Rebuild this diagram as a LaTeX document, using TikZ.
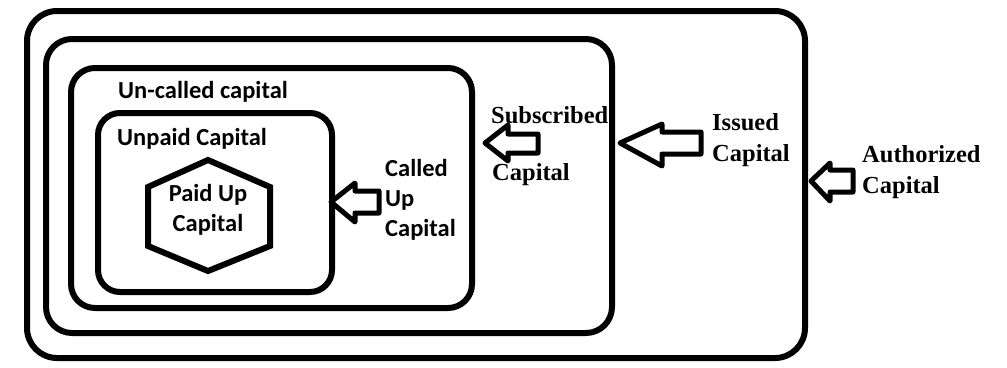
\documentclass[tikz,border=0pt]{standalone}
\usepackage{fontspec}
\setmainfont{Liberation Serif}
\newfontfamily\calib{Carlito}
\begin{document}
\begin{tikzpicture}[x=1pt,y=-1pt,
  capbox/.style={line width=6pt, rounded corners=#1},
  blockarrow/.style={line width=5pt, line join=round, fill=white},
  serif/.style={font=\fontsize{24.5}{31}\selectfont\bfseries, inner sep=0pt, align=left, anchor=north west},
  sans/.style={font=\calib\fontsize{24.5}{30}\selectfont\bfseries, inner sep=0pt, align=left, anchor=north west},
  sansc/.style={font=\calib\fontsize{24.5}{30}\selectfont\bfseries, inner sep=0pt, align=center}]
\useasboundingbox (0,0) rectangle (1007,367);
% nested boxes
\draw[capbox=30pt] (27,11) rectangle (805,358);
\draw[capbox=26pt] (46,39) rectangle (612,333);
\draw[capbox=24pt] (71,68) rectangle (472,308);
\draw[capbox=22pt] (98,113) rectangle (332,292);
% hexagon
\draw[line width=6pt, line join=miter] (208,160) -- (270,187) -- (270,246) -- (208,271) -- (148,246) -- (148,187) -- cycle;
% texts
\node[sans] (uncalled) at (118,81) {Un-called capital};
\node[sans] (unpaid) at (117,128) {Unpaid Capital};
\node[sansc] (paid) at (208,210) {Paid Up\\Capital};
\node[sans] (calledup) at (385,159) {Called\\Up\\Capital};
\node[serif] (subscribed) at (491,106) {Subscribed};
\node[serif] (subcap) at (492,163) {Capital};
\node[serif] (issued) at (712,113) {Issued\\Capital};
\node[serif] (authorized) at (862,145) {Authorized\\Capital};
% block arrows
\draw[blockarrow] (331,202) -- (355,183) -- (355,191) -- (379,191) -- (379,213) -- (355,213) -- (355,222) -- cycle;
\draw[blockarrow] (485,143) -- (508,125) -- (508,134) -- (538,134) -- (538,153) -- (508,153) -- (508,161) -- cycle;
\draw[blockarrow] (620,143) -- (662,124) -- (662,132) -- (701,132) -- (701,154) -- (662,154) -- (662,166) -- cycle;
\draw[blockarrow] (811,181) -- (830,163) -- (830,170) -- (853,170) -- (853,192) -- (830,192) -- (830,201) -- cycle;
\end{tikzpicture}
\end{document}
